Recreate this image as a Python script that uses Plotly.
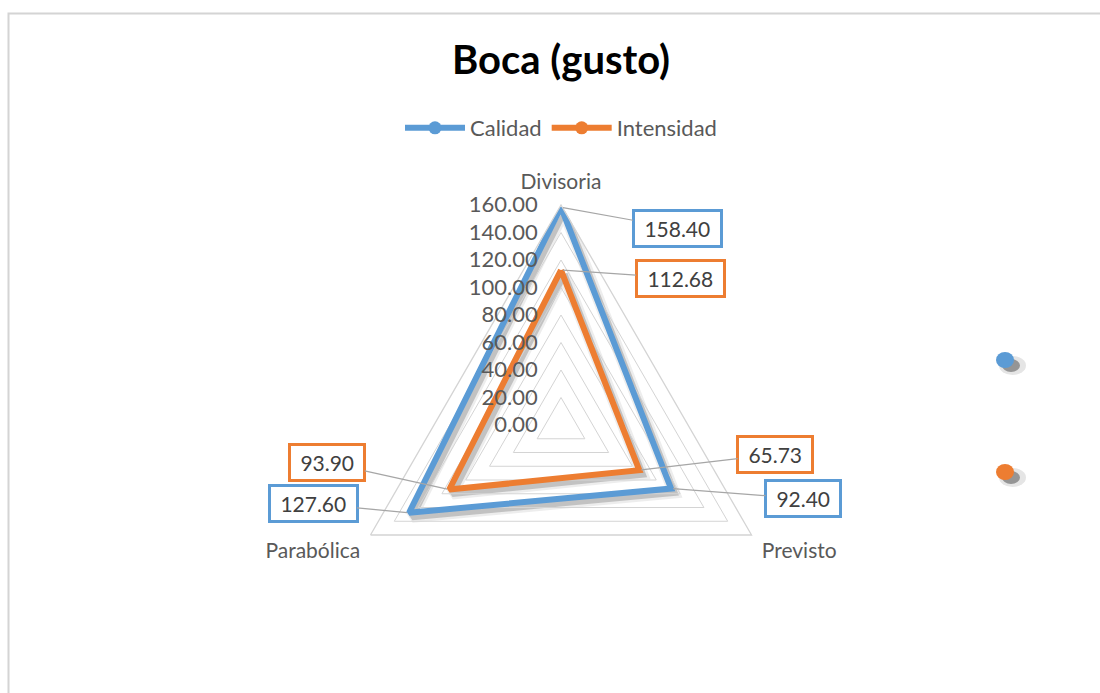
import plotly.graph_objects as go
import math

categories = ["Divisoria", "Previsto", "Parabólica"]
calidad = [158.40, 92.40, 127.60]
intensidad = [112.68, 65.73, 93.90]
series_names = ["Calidad", "Intensidad"]
radial_ticks = [0, 20, 40, 60, 80, 100, 120, 140, 160]

W, H = 1100, 693
BLUE = "#5B9BD5"
ORANGE = "#ED7D31"
GRAY = "#595959"
GRID = "#D4D4D4"
FONT = "Lato"

# polar geometry (pixels)
CX, CY, R = 561, 425, 220
RMAX = 160
SHX, SHY = 3, 4  # shadow offset

fig = go.Figure()

series = [(series_names[0], calidad, BLUE), (series_names[1], intensidad, ORANGE)]

# soft shadows (separate, offset polar subplot underneath)
for name, vals, col in series:
    for w, a in [(12, 0.07), (7, 0.18)]:
        fig.add_trace(go.Scatterpolar(
            r=vals + [vals[0]], theta=categories + [categories[0]], subplot="polar",
            mode="lines", line=dict(color=f"rgba(0,0,0,{a})", width=w),
            showlegend=False, hoverinfo="skip"))

for name, vals, col in series:
    fig.add_trace(go.Scatterpolar(
        r=vals + [vals[0]], theta=categories + [categories[0]], subplot="polar2",
        mode="lines", line=dict(color=col, width=6), showlegend=False,
        name=name, hoverinfo="skip"))

# legend entries (line + marker)
for name, vals, col in series:
    fig.add_trace(go.Scatterpolar(
        r=[None], theta=[categories[0]], subplot="polar2", mode="lines+markers", name=name,
        line=dict(color=col, width=6), marker=dict(color=col, size=13)))

# data labels
offsets = {
    ("Calidad", 0): (116, 21), ("Intensidad", 0): (119, 8),
    ("Calidad", 1): (132, 10), ("Intensidad", 1): (136, -16),
    ("Calidad", 2): (-96, -9), ("Intensidad", 2): (-122, -27),
}
annotations = []
for name, vals, col in series:
    for i, v in enumerate(vals):
        ang = math.radians(i * 120)
        px = CX + R * v / RMAX * math.sin(ang)
        py = CY - R * v / RMAX * math.cos(ang)
        ax, ay = offsets[(name, i)]
        annotations.append(dict(
            x=px / W, y=1 - py / H, xref="paper", yref="paper",
            text=f"\u00a0{v:.2f}\u00a0", showarrow=True, arrowhead=0, arrowwidth=1.2,
            arrowcolor="#A6A6A6", ax=ax, ay=ay, standoff=2,
            font=dict(family=FONT, size=21, color="#404040"),
            bgcolor="white", bordercolor=col, borderwidth=3, borderpad=4))

shapes = [
    dict(type="rect", xref="paper", yref="paper", x0=8.5 / W, x1=1.2,
         y0=-0.2, y1=1 - 13.5 / H, line=dict(color=GRID, width=2)),
]
for yy, col in [(360, BLUE), (472, ORANGE)]:
    shapes.append(dict(type="circle", xref="paper", yref="paper",
                       x0=999 / W, x1=1026 / W, y0=1 - (yy + 15) / H, y1=1 - (yy - 4) / H,
                       fillcolor="rgba(0,0,0,0.10)", line=dict(width=0)))
    shapes.append(dict(type="circle", xref="paper", yref="paper",
                       x0=1002 / W, x1=1020 / W, y0=1 - (yy + 12) / H, y1=1 - (yy - 1) / H,
                       fillcolor="rgba(0,0,0,0.35)", line=dict(width=0)))
    shapes.append(dict(type="circle", xref="paper", yref="paper",
                       x0=996 / W, x1=1014 / W, y0=1 - (yy + 8) / H, y1=1 - (yy - 8) / H,
                       fillcolor=col, line=dict(width=0)))

hidden_radial = dict(range=[0, RMAX], visible=False)
hidden_angular = dict(rotation=90, direction="clockwise", visible=False,
                      categoryorder="array", categoryarray=categories)

fig.update_layout(
    width=W, height=H, autosize=False,
    margin=dict(l=0, r=0, t=0, b=0),
    paper_bgcolor="white",
    font=dict(family=FONT, color=GRAY, size=20),
    title=dict(text="<b>Boca (gusto)</b>", x=CX / W, y=1 - 60 / H,
               xanchor="center", yanchor="middle",
               font=dict(family=FONT, size=40, color="black")),
    legend=dict(orientation="h", x=CX / W, y=1 - 128 / H, xanchor="center",
                yanchor="middle", font=dict(family=FONT, size=22, color=GRAY),
                itemwidth=60, bgcolor="rgba(0,0,0,0)"),
    polar=dict(
        domain=dict(x=[(CX - R + SHX) / W, (CX + R + SHX) / W],
                    y=[1 - (CY + R + SHY) / H, 1 - (CY - R + SHY) / H]),
        gridshape="linear", bgcolor="rgba(0,0,0,0)",
        radialaxis=hidden_radial, angularaxis=hidden_angular,
    ),
    polar2=dict(
        domain=dict(x=[(CX - R) / W, (CX + R) / W],
                    y=[1 - (CY + R) / H, 1 - (CY - R) / H]),
        gridshape="linear",
        bgcolor="rgba(0,0,0,0)",
        radialaxis=dict(range=[0, RMAX], tickvals=radial_ticks,
                        ticktext=[f"{t:.2f}" for t in radial_ticks],
                        angle=90, tickangle=90, side="counterclockwise",
                        showline=False, ticks="outside", ticklen=15,
                        tickcolor="rgba(0,0,0,0)",
                        gridcolor=GRID, gridwidth=1.3,
                        tickfont=dict(family=FONT, size=22, color=GRAY)),
        angularaxis=dict(rotation=90, direction="clockwise", showgrid=False,
                         categoryorder="array", categoryarray=categories,
                         showline=True, linecolor=GRID, linewidth=1.3,
                         ticks="outside", ticklen=7, tickcolor="rgba(0,0,0,0)",
                         tickfont=dict(family=FONT, size=21, color=GRAY)),
    ),
    annotations=annotations,
    shapes=shapes,
)

fig.write_html("out.html", config={"displayModeBar": False},
               post_script="document.body.style.margin='0';")
